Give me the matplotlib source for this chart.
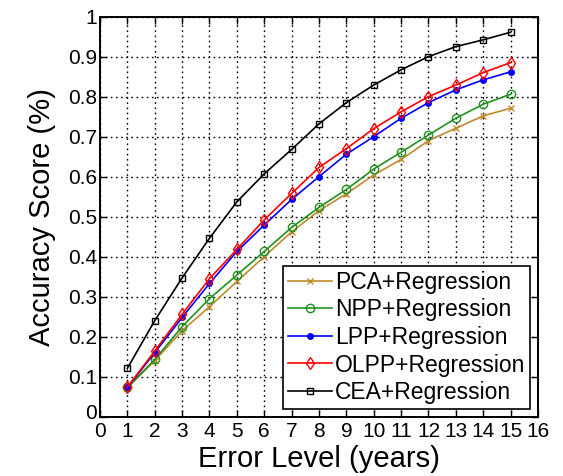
import matplotlib
matplotlib.use("Agg")
import matplotlib.pyplot as plt
import matplotlib.transforms as mtransforms

plt.rcParams['font.family'] = ['Liberation Sans', 'DejaVu Sans']

error_levels = list(range(1, 16))

pca = [0.072, 0.140, 0.215, 0.275, 0.338, 0.400, 0.462, 0.515, 0.557, 0.604, 0.643, 0.690, 0.721, 0.752, 0.771]
npp = [0.073, 0.143, 0.225, 0.295, 0.354, 0.413, 0.473, 0.523, 0.568, 0.619, 0.661, 0.704, 0.746, 0.781, 0.806]
lpp = [0.073, 0.160, 0.248, 0.333, 0.413, 0.479, 0.543, 0.600, 0.656, 0.700, 0.746, 0.785, 0.817, 0.842, 0.862]
olpp = [0.074, 0.164, 0.256, 0.345, 0.418, 0.492, 0.558, 0.623, 0.670, 0.720, 0.762, 0.800, 0.829, 0.860, 0.885]
cea = [0.121, 0.240, 0.347, 0.446, 0.537, 0.607, 0.668, 0.732, 0.785, 0.829, 0.867, 0.900, 0.925, 0.942, 0.961]

labels = ['PCA+Regression', 'NPP+Regression', 'LPP+Regression',
          'OLPP+Regression', 'CEA+Regression']
x_ticks = list(range(0, 17))
y_ticks = [0, 0.1, 0.2, 0.3, 0.4, 0.5, 0.6, 0.7, 0.8, 0.9, 1]
y_tick_labels = ['0', '0.1', '0.2', '0.3', '0.4', '0.5', '0.6', '0.7', '0.8', '0.9', '1']

fig = plt.figure(figsize=(5.63, 4.76), dpi=100)
ax = fig.add_axes([0.1776, 0.1246, 0.778, 0.8405])

styles = [
    dict(color='#c08a2a', marker='x', ms=5, mfc='none'),
    dict(color='#1f921f', marker='o', ms=6, mfc='none'),
    dict(color='#0000ff', marker='.', ms=8),
    dict(color='#ff0000', marker='d', ms=6, mfc='none'),
    dict(color='black', marker='s', ms=4.5, mfc='none'),
]
series = [pca, npp, lpp, olpp, cea]
for ys, lab, st in zip(series, labels, styles):
    ax.plot(error_levels, ys, lw=1.2, mew=1.0, label=lab, **st)

ax.set_xlim(0, 16)
ax.set_ylim(0, 1)
ax.set_xticks(x_ticks)
ax.set_xticklabels([str(v) for v in x_ticks])
ax.set_yticks(y_ticks)
ax.set_yticklabels(y_tick_labels)
ax.grid(True, color='black', linestyle=(0, (1.2, 2.5)), linewidth=1.0)
ax.tick_params(direction='in', top=True, right=True, length=5, width=1.0,
               labelsize=15)
ax.tick_params(axis='x', pad=4)
ax.tick_params(axis='y', pad=2)
for sp in ax.spines.values():
    sp.set_linewidth(1.4)

# lift the y-axis origin label so it sits above the x-axis one
origin_label = ax.get_yticklabels()[0]
origin_label.set_transform(origin_label.get_transform() +
                           mtransforms.ScaledTranslation(0, 5 / 100, fig.dpi_scale_trans))

ax.set_xlabel('Error Level (years)', fontsize=21, labelpad=3)
ax.set_ylabel('Accuracy Score (%)', fontsize=21, labelpad=9)

leg = ax.legend(loc='lower right', fontsize=16.5, frameon=True, fancybox=False,
                edgecolor='black', framealpha=1, borderpad=0.2,
                handlelength=1.9, handletextpad=0.15, labelspacing=0.2,
                borderaxespad=0.35)
leg.get_frame().set_linewidth(1.2)

fig.savefig('out.png', dpi=100)
